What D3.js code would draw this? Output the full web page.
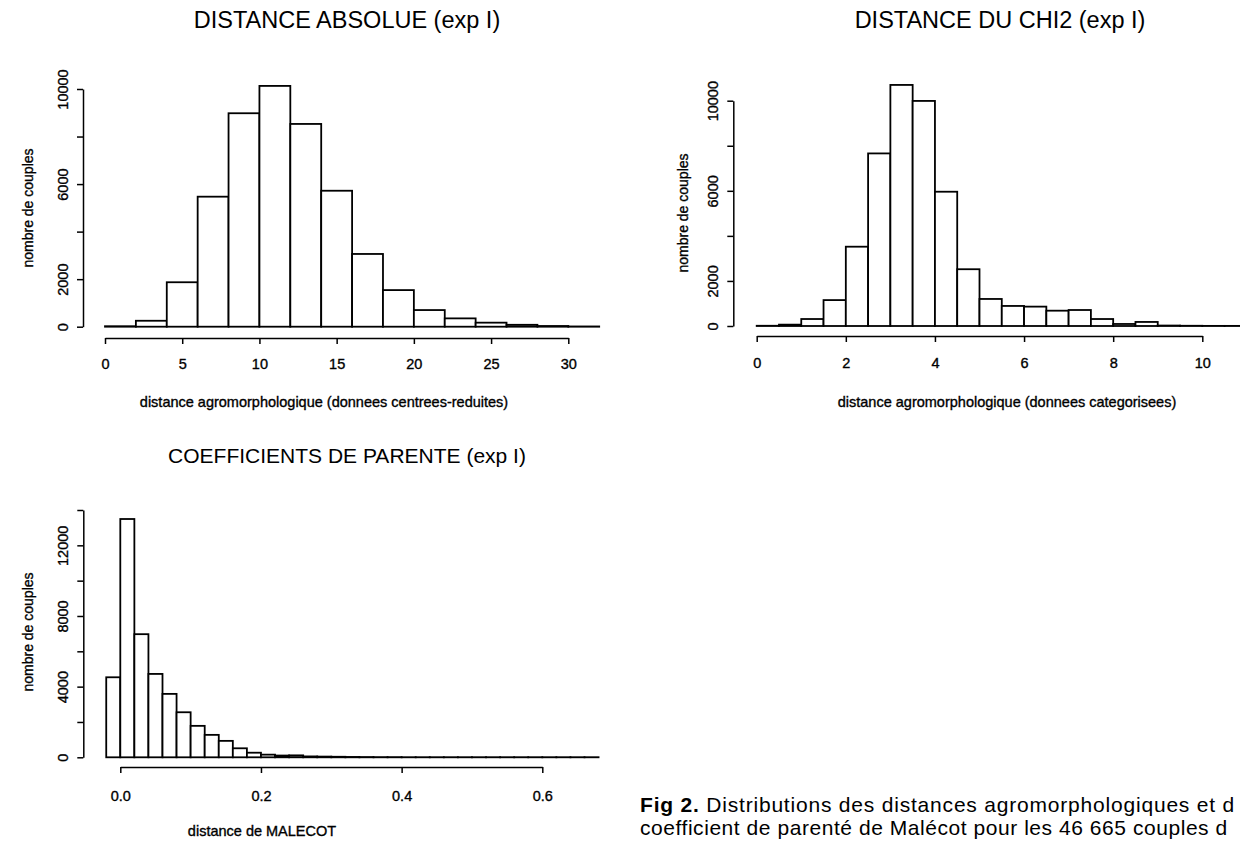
<!DOCTYPE html>
<html>
<head>
<meta charset="utf-8">
<script src="https://cdn.jsdelivr.net/npm/d3@7"></script>
<style>
  body { margin: 0; background: #fff; }
  svg { display: block; font-family: "Liberation Sans", Arial, Helvetica, sans-serif; }
  .axis path, .axis line { stroke: #000; stroke-width: 1.5px; }
  .axis text, .small { fill: #000; stroke: #000; stroke-width: 0.35px; }
</style>
</head>
<body>
<div id="fig"></div>
<script>

// distance absolue (donnees centrees-reduites), bins of 2
var absBreaks = [0, 2, 4, 6, 8, 10, 12, 14, 16, 18, 20, 22, 24, 26, 28, 30, 32];
var absCounts = [20, 250, 1870, 5470, 8980, 10130, 8530, 5720, 3060, 1540, 700, 350, 170, 80, 30, 10];

// distance du chi2 (donnees categorisees), bins of 0.5
var chiBreaks = [0, 0.5, 1, 1.5, 2, 2.5, 3, 3.5, 4, 4.5, 5, 5.5, 6, 6.5, 7, 7.5, 8, 8.5, 9, 9.5, 10, 10.5, 11];
var chiCounts = [10, 60, 310, 1150, 3520, 7660, 10700, 9990, 5960, 2520, 1200, 890, 860, 680, 710, 310, 90, 180, 20, 10, 5, 5];

// coefficients de parente (Malecot), bins of 0.02
var malBreaks = [-0.02, 0, 0.02, 0.04, 0.06, 0.08, 0.10, 0.12, 0.14, 0.16, 0.18, 0.20, 0.22, 0.24, 0.26, 0.28,
                 0.30, 0.32, 0.34, 0.36, 0.38, 0.40, 0.42, 0.44, 0.46, 0.48, 0.50, 0.52, 0.54, 0.56, 0.58,
                 0.60, 0.62, 0.64, 0.66, 0.68];
var malCounts = [4530, 13490, 6970, 4720, 3590, 2550, 1780, 1270, 930, 510, 260, 150, 100, 110, 50, 40,
                 30, 20, 15, 10, 10, 5, 5, 5, 5, 5, 5, 5, 5, 5, 5, 5, 5, 5, 5];

var countTicks = [0, 2000, 4000, 6000, 8000, 10000];
var countLabels = [0, 2000, 6000, 10000];
var malCountTicks = [0, 2000, 4000, 6000, 8000, 10000, 12000, 14000];
var malCountLabels = [0, 4000, 8000, 12000];
var absTicks = [0, 5, 10, 15, 20, 25, 30];
var chiTicks = [0, 2, 4, 6, 8, 10];
var malTicks = [0, 0.2, 0.4, 0.6];

var svg = d3.select('#fig')
    .append('svg')
    .attr('width', 1240)
    .attr('height', 841);

function drawHist(o) {

    var x = d3.scaleLinear().domain(o.xDomain).range(o.xRange);
    var y = d3.scaleLinear().domain(o.yDomain).range(o.yRange);

    var g = svg.append('g');

    // bars
    g.selectAll('rect')
        .data(o.counts)
        .enter().append('rect')
        .attr('x', function (d, i) { return x(o.breaks[i]); })
        .attr('width', function (d, i) { return x(o.breaks[i + 1]) - x(o.breaks[i]); })
        .attr('y', function (d) { return y(d); })
        .attr('height', function (d) { return y(0) - y(d); })
        .style('fill', '#fff')
        .style('stroke', '#000')
        .style('stroke-width', '1.8px');

    // y axis, R style: labels parallel to the axis
    var ya = g.append('g')
        .attr('class', 'axis')
        .attr('transform', 'translate(' + o.yAxisX + ',0)')
        .call(d3.axisLeft(y)
            .tickValues(o.yTicks)
            .tickSize(6)
            .tickSizeOuter(0)
            .tickFormat(function (d) { return o.yLabels.indexOf(d) == -1 ? '' : d; }));
    ya.selectAll('text')
        .attr('transform', 'rotate(-90)')
        .attr('x', 0)
        .attr('y', -15)
        .attr('dy', 0)
        .attr('text-anchor', 'middle')
        .style('font-size', '14.5px');

    // x axis, offset below the bars
    var xa = g.append('g')
        .attr('class', 'axis')
        .attr('transform', 'translate(0,' + o.xAxisY + ')')
        .call(d3.axisBottom(x)
            .tickValues(o.xTicks)
            .tickSize(6)
            .tickSizeOuter(0)
            .tickPadding(o.xPad)
            .tickFormat(o.xFormat));
    xa.selectAll('text').style('font-size', '14.5px');

    g.append('text')
        .attr('x', o.titleX)
        .attr('y', o.titleY)
        .attr('text-anchor', 'middle')
        .style('font-size', o.titleSize)
        .text(o.title);

    g.append('text')
        .attr('class', 'small')
        .attr('x', o.xTitleX)
        .attr('y', o.xTitleY)
        .attr('text-anchor', 'middle')
        .style('font-size', '14.5px')
        .text(o.xTitle);

    g.append('text')
        .attr('class', 'small')
        .attr('transform', 'translate(' + o.yTitleX + ',' + o.yTitleY + ') rotate(-90)')
        .attr('text-anchor', 'middle')
        .style('font-size', '14px')
        .text('nombre de couples');
}

drawHist({
    breaks: absBreaks, counts: absCounts,
    xDomain: [0, 30], xRange: [105, 568.3],
    yDomain: [0, 10000], yRange: [326.7, 89],
    yTicks: countTicks, yLabels: countLabels,
    xTicks: absTicks, xFormat: d3.format('d'), xPad: 15,
    yAxisX: 83, xAxisY: 338,
    title: 'DISTANCE ABSOLUE (exp I)', titleX: 347, titleY: 28, titleSize: '23.5px',
    xTitle: 'distance agromorphologique (donnees centrees-reduites)', xTitleX: 324, xTitleY: 407,
    yTitleX: 33, yTitleY: 208
});

drawHist({
    breaks: chiBreaks, counts: chiCounts,
    xDomain: [0, 10], xRange: [756.7, 1202.3],
    yDomain: [0, 10000], yRange: [326, 100.7],
    yTicks: countTicks, yLabels: countLabels,
    xTicks: chiTicks, xFormat: d3.format('d'), xPad: 16,
    yAxisX: 733.3, xAxisY: 336,
    title: 'DISTANCE DU CHI2 (exp I)', titleX: 1000, titleY: 28, titleSize: '23.5px',
    xTitle: 'distance agromorphologique (donnees categorisees)', xTitleX: 1007, xTitleY: 407,
    yTitleX: 688, yTitleY: 213
});

drawHist({
    breaks: malBreaks, counts: malCounts,
    xDomain: [0, 0.6], xRange: [120.3, 542.3],
    yDomain: [0, 14000], yRange: [757.3, 510],
    yTicks: malCountTicks, yLabels: malCountLabels,
    xTicks: malTicks, xFormat: d3.format('.1f'), xPad: 18,
    yAxisX: 83.3, xAxisY: 767,
    title: 'COEFFICIENTS DE PARENTE (exp I)', titleX: 347, titleY: 463, titleSize: '21px',
    xTitle: 'distance de MALECOT', xTitleX: 262, xTitleY: 836,
    yTitleX: 33, yTitleY: 632
});

// figure caption, reaching the right edge as in the scan
var cap = svg.append('text')
    .attr('x', 640)
    .attr('y', 812)
    .style('font-size', '21px')
    .style('letter-spacing', '0.8px');
cap.append('tspan').style('font-weight', 'bold').text('Fig 2.');
cap.append('tspan').text(' Distributions des distances agromorphologiques et d');

svg.append('text')
    .attr('x', 640)
    .attr('y', 835)
    .style('font-size', '21px')
    .style('letter-spacing', '0.55px')
    .text('coefficient de parenté de Malécot pour les 46 665 couples d');

</script>
</body>
</html>
